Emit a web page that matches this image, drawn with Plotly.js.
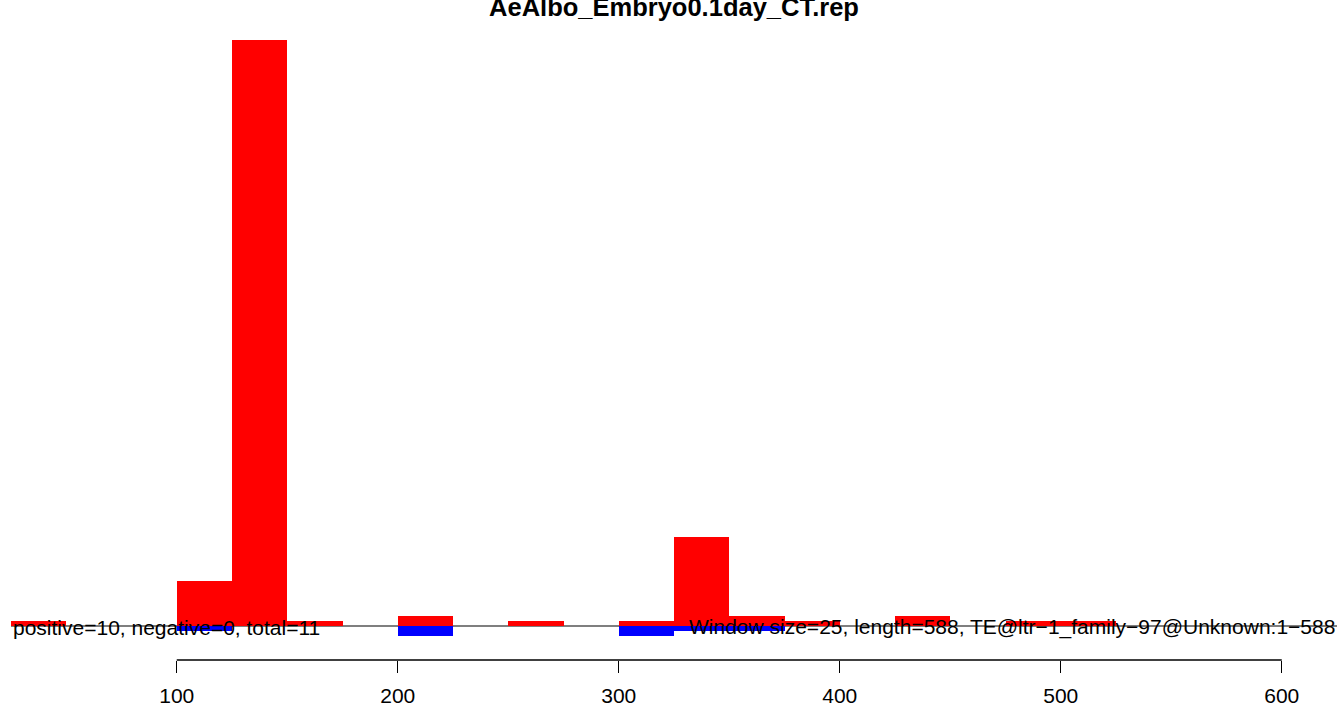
<!DOCTYPE html>
<html>
<head>
<meta charset="utf-8">
<script src="https://cdn.plot.ly/plotly-3.0.1.min.js"></script>
<style>html,body{margin:0;padding:0;background:#fff;}#chart{width:1344px;height:711px;}</style>
</head>
<body>
<div id="chart"></div>
<script>
// Window start positions (window size 25)
const windowStarts = [25, 50, 75, 100, 125, 150, 175, 200, 225, 250, 275, 300, 325, 350, 375, 400, 425, 450, 475, 500, 525, 550, 575];
const positiveCounts = [1, 0, 0, 9, 118, 1, 0, 2, 0, 1, 0, 1, 18, 2, 1, 0, 2, 0, 1, 1, 0, 0, 0];
const negativeCounts = [0, 0, 0, 1, 0, 0, 0, 2, 0, 0, 0, 2, 1, 1, 0, 0, 0, 0, 0, 0, 0, 0, 0];
const windowSize = 25;
const tickValues = [100, 200, 300, 400, 500, 600];
const titleText = "AeAlbo_Embryo0.1day_CT.rep";
const leftNote = "positive=10, negative=0, total=11";
const rightNote = "Window size=25, length=588, TE@ltr\u22121_family\u221297@Unknown:1\u2212588";

const centers = windowStarts.map(s => s + windowSize / 2);
const FONT = "Liberation Sans, Arial, Helvetica, sans-serif";

const traces = [
  {
    type: "bar",
    x: centers,
    y: positiveCounts,
    width: windowSize,
    marker: {color: "#FF0000", line: {width: 0}},
    hoverinfo: "skip"
  },
  {
    type: "bar",
    x: centers,
    y: negativeCounts.map(v => -v),
    width: windowSize,
    marker: {color: "#0000FF", line: {width: 0}},
    hoverinfo: "skip"
  }
];

const layout = {
  width: 1344,
  height: 711,
  paper_bgcolor: "#ffffff",
  plot_bgcolor: "#ffffff",
  showlegend: false,
  barmode: "relative",
  bargap: 0,
  margin: {l: 11, r: 7, t: 39, b: 51, pad: 0},
  font: {family: FONT, size: 21, color: "#000000"},
  title: {
    text: "<b>" + titleText + "</b>",
    font: {family: FONT, size: 25.5, color: "#000000"},
    x: 0.5,
    xref: "paper",
    xanchor: "center",
    yref: "container",
    y: 0.990,
    yanchor: "middle"
  },
  xaxis: {
    range: [25, 625],
    showgrid: false,
    zeroline: false,
    showline: false,
    tickmode: "array",
    tickvals: tickValues,
    ticktext: tickValues.map(String),
    ticks: "outside",
    ticklen: 12,
    tickwidth: 1,
    tickcolor: "#000000",
    ticklabelstandoff: 5,
    tickfont: {family: FONT, size: 21, color: "#000000"},
    fixedrange: true
  },
  yaxis: {
    range: [-6.84, 118.1],
    showgrid: false,
    zeroline: false,
    showline: false,
    showticklabels: false,
    ticks: "",
    fixedrange: true
  },
  shapes: [
    {
      type: "line", layer: "below",
      xref: "paper", yref: "y",
      x0: 0, x1: 1, y0: 0, y1: 0,
      line: {color: "#555555", width: 1.3}
    },
    {
      type: "line", layer: "above",
      xref: "x", yref: "paper",
      x0: tickValues[0], x1: tickValues[tickValues.length - 1], y0: 0, y1: 0,
      line: {color: "#000000", width: 1.3}
    }
  ],
  annotations: [
    {
      text: leftNote, xref: "x", yref: "y", x: 25, y: 0,
      xanchor: "left", yanchor: "middle", yshift: -1, showarrow: false,
      font: {family: FONT, size: 21, color: "#000000"}
    },
    {
      text: rightNote, xref: "x", yref: "y", x: 625, y: 0,
      xanchor: "right", yanchor: "middle", yshift: -1, showarrow: false,
      font: {family: FONT, size: 21, color: "#000000"}
    }
  ]
};

Plotly.newPlot("chart", traces, layout, {displayModeBar: false, staticPlot: true});
</script>
</body>
</html>
